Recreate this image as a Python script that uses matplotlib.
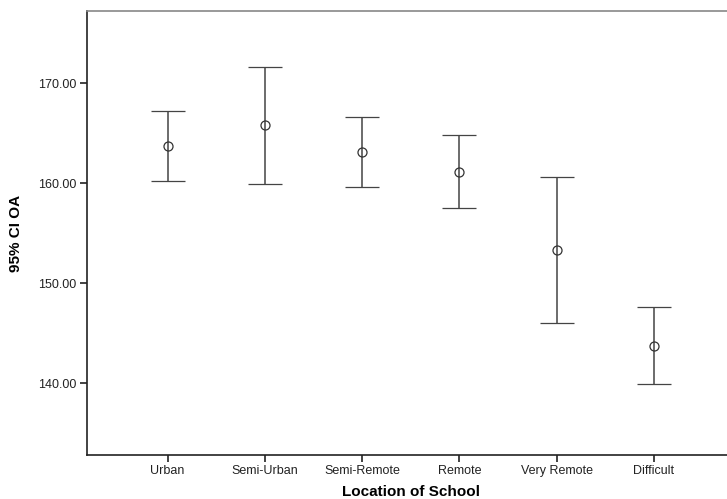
import matplotlib
matplotlib.use("Agg")
import matplotlib.pyplot as plt
import numpy as np

categories = ["Urban", "Semi-Urban", "Semi-Remote", "Remote", "Very Remote", "Difficult"]
means = [163.7, 165.8, 163.1, 161.1, 153.3, 143.7]
upper = [167.2, 171.6, 166.6, 164.8, 160.6, 147.6]
lower = [160.2, 159.95, 159.6, 157.5, 146.0, 139.9]
yticks = [140, 150, 160, 170]

plt.rcParams['font.family'] = ['Liberation Sans', 'DejaVu Sans']

W, H = 727, 499
fig = plt.figure(figsize=(W / 100, H / 100), dpi=100)
left, right, top, bottom = 86.5, 727, 11, 455
ax = fig.add_axes([left / W, 1 - bottom / H, (right - left) / W, (bottom - top) / H])

x = np.arange(len(categories))
m = np.array(means)
err = np.vstack([m - np.array(lower), np.array(upper) - m])
ax.errorbar(x, m, yerr=err, fmt='o', mfc='none', mec='#333333', ms=6.5, mew=0.9,
            ecolor='#444444', elinewidth=1.1, capsize=12, capthick=1.1)

ax.set_xlim(-0.833, 5.75)
ax.set_ylim(132.8, 177.2)
ax.set_xticks(x)
ax.set_xticklabels(categories, fontsize=9, color='#222222')
ax.set_yticks(yticks)
ax.set_yticklabels([f"{v:.2f}" for v in yticks], fontsize=9, color='#222222')
ax.tick_params(axis='both', direction='out', length=5, width=1.2, color='#222222', pad=2)

ax.spines['right'].set_visible(False)
ax.spines['top'].set_color('#888888')
ax.spines['top'].set_linewidth(1.2)
for s in ['left', 'bottom']:
    ax.spines[s].set_color('#222222')
    ax.spines[s].set_linewidth(1.2)

ax.set_xlabel("Location of School", fontsize=11, fontweight='bold')
ax.xaxis.set_label_coords((411 - left) / (right - left), -(492 - bottom) / (bottom - top), transform=ax.transAxes)
ax.xaxis.label.set_va('center')
ax.set_ylabel("95% CI OA", fontsize=11, fontweight='bold')
ax.yaxis.set_label_coords(-(left - 16) / (right - left), 0.5)
ax.yaxis.label.set_va('center')

fig.savefig("out.png", dpi=100)
